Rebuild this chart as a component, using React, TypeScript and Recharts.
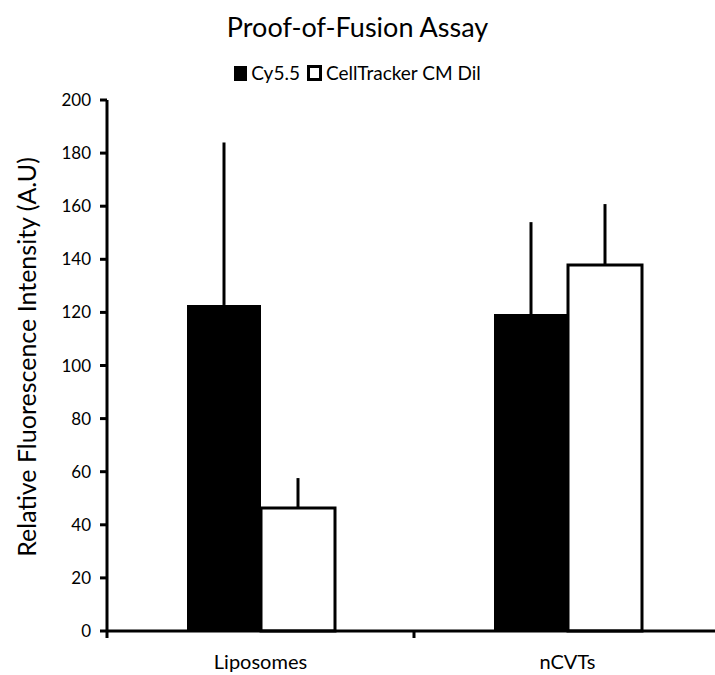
import { BarChart, Bar, XAxis, YAxis, ErrorBar } from 'recharts';

const categories = ['Liposomes', 'nCVTs'];
const cy55 = [122.8, 119.4];
const cy55Err = [61.2, 34.6];
const cellTracker = [46.3, 137.9];
const cellTrackerErr = [11.3, 22.9];
const yTicks = [0, 20, 40, 60, 80, 100, 120, 140, 160, 180, 200];

const data = categories.map((name, i) => ({
  name,
  cy55: cy55[i],
  cy55Err: [0, cy55Err[i]],
  cellTracker: cellTracker[i],
  cellTrackerErr: [0, cellTrackerErr[i]],
}));

const FONT = 'Lato, "Open Sans", sans-serif';
const BAND = 307;

// eslint-disable-next-line @typescript-eslint/no-explicit-any
function CategoryTick({ x, y, payload, index }: any) {
  const axisY = y - 7;
  const left = x - BAND / 2;
  return (
    <g>
      <line x1={left} x2={left} y1={axisY} y2={axisY + 7} stroke="#000" strokeWidth={3} />
      {index === categories.length - 1 && (
        <line x1={x + BAND / 2} x2={x + BAND / 2} y1={axisY} y2={axisY + 7} stroke="#000" strokeWidth={3} />
      )}
      <text x={x} y={axisY + 38} textAnchor="middle" fill="#000" fontSize={20} fontFamily={FONT}>
        {payload.value}
      </text>
    </g>
  );
}

function ChartLegend() {
  const item = { display: 'flex', alignItems: 'center', gap: 4 };
  return (
    <div
      style={{
        position: 'absolute',
        top: 61,
        left: 0,
        width: 715,
        display: 'flex',
        justifyContent: 'center',
        gap: 7,
        fontFamily: FONT,
        fontSize: 19,
        color: '#000',
        lineHeight: '24px',
      }}
    >
      <span style={item}>
        <span style={{ width: 13, height: 15, background: '#000', display: 'inline-block' }} />
        Cy5.5
      </span>
      <span style={item}>
        <span
          style={{
            width: 9,
            height: 10,
            border: '3px solid #000',
            background: '#fff',
            display: 'inline-block',
          }}
        />
        CellTracker CM Dil
      </span>
    </div>
  );
}

export default function App() {
  return (
    <div
      style={{
        position: 'absolute',
        left: 0,
        top: 0,
        width: 715,
        height: 675,
        overflow: 'hidden',
        background: '#fff',
      }}
    >
      <div
        style={{
          position: 'absolute',
          top: 10,
          left: 0,
          width: 715,
          textAlign: 'center',
          fontFamily: FONT,
          fontSize: 27,
          color: '#000',
        }}
      >
        Proof-of-Fusion Assay
      </div>
      <ChartLegend />
      <BarChart
        width={730}
        height={675}
        data={data}
        margin={{ top: 100, right: 9, bottom: 0, left: 0 }}
        barGap={0}
        barSize={74}
      >
        <XAxis
          dataKey="name"
          height={44}
          axisLine={{ stroke: '#000', strokeWidth: 3 }}
          tickLine={false}
          tickSize={7}
          tickMargin={0}
          tick={CategoryTick}
          interval={0}
        />
        <YAxis
          width={107}
          domain={[0, 200]}
          ticks={yTicks}
          interval={0}
          axisLine={{ stroke: '#000', strokeWidth: 3 }}
          tickLine={{ stroke: '#000', strokeWidth: 3 }}
          tickSize={7}
          tickMargin={9}
          tick={{ fill: '#000', fontSize: 17, fontFamily: FONT }}
          label={{
            content: () => (
              <text
                x={26}
                y={357}
                transform="rotate(-90 26 357)"
                textAnchor="middle"
                dominantBaseline="central"
                fill="#000"
                fontSize={25}
                fontFamily={FONT}
              >
                Relative Fluorescence Intensity (A.U)
              </text>
            ),
          }}
        />
        <Bar dataKey="cy55" name="Cy5.5" fill="#000" isAnimationActive={false}>
          <ErrorBar dataKey="cy55Err" width={0} stroke="#000" strokeWidth={3} direction="y" />
        </Bar>
        <Bar
          dataKey="cellTracker"
          name="CellTracker CM Dil"
          fill="#fff"
          stroke="#000"
          strokeWidth={3}
          isAnimationActive={false}
        >
          <ErrorBar dataKey="cellTrackerErr" width={0} stroke="#000" strokeWidth={3} direction="y" />
        </Bar>
      </BarChart>
    </div>
  );
}
